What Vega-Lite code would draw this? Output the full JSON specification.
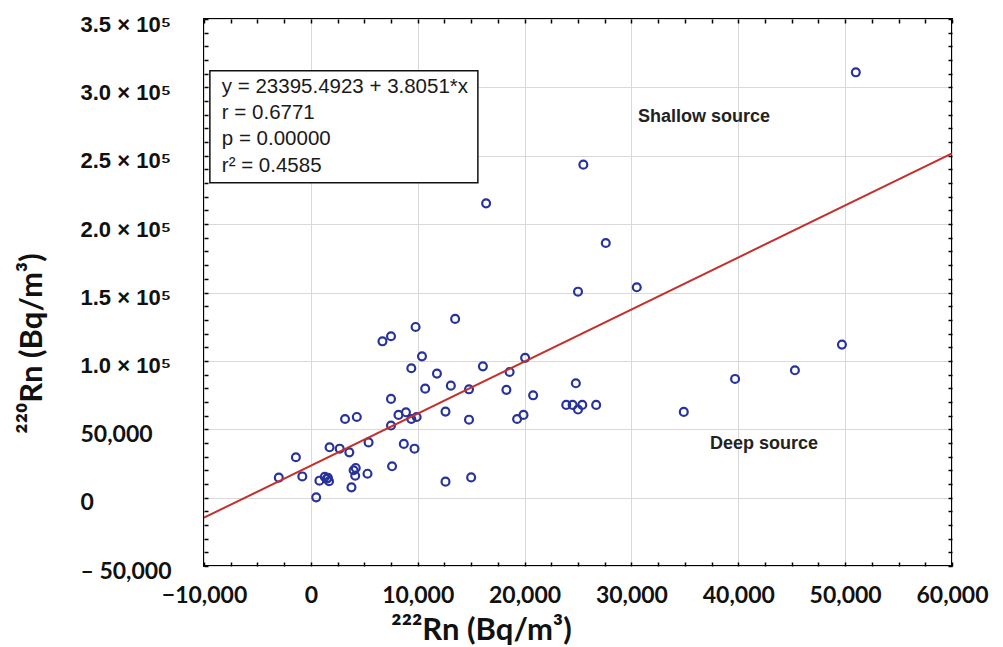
{
  "$schema": "https://vega.github.io/schema/vega-lite/v6.json",
  "width": 748,
  "height": 547,
  "autosize": "none",
  "padding": {"left": 204, "top": 19, "right": 51, "bottom": 81},
  "background": "white",
  "config": {
    "view": {"stroke": "#000000", "strokeWidth": 2},
    "axis": {"domain": false, "tickColor": "#000000", "tickWidth": 1.5, "gridColor": "#d9d9d9", "gridWidth": 1}
  },
  "datasets": {
    "points": [
      {"rn222": 51000, "rn220": 311000},
      {"rn222": 25500, "rn220": 243500},
      {"rn222": 16400, "rn220": 215200},
      {"rn222": 27600, "rn220": 186200},
      {"rn222": 30500, "rn220": 153800},
      {"rn222": 25000, "rn220": 150600},
      {"rn222": 13500, "rn220": 130700},
      {"rn222": 9800, "rn220": 124800},
      {"rn222": 7500, "rn220": 118000},
      {"rn222": 6700, "rn220": 114300},
      {"rn222": 10400, "rn220": 103300},
      {"rn222": 20050, "rn220": 102200},
      {"rn222": 49700, "rn220": 111900},
      {"rn222": 11800, "rn220": 90700},
      {"rn222": 9400, "rn220": 94600},
      {"rn222": 16100, "rn220": 96000},
      {"rn222": 18600, "rn220": 91900},
      {"rn222": 13100, "rn220": 81900},
      {"rn222": 10700, "rn220": 79700},
      {"rn222": 14800, "rn220": 79200},
      {"rn222": 18300, "rn220": 78800},
      {"rn222": 20800, "rn220": 74800},
      {"rn222": 7500, "rn220": 72200},
      {"rn222": 24800, "rn220": 83600},
      {"rn222": 23900, "rn220": 67800},
      {"rn222": 24500, "rn220": 67800},
      {"rn222": 25000, "rn220": 64400},
      {"rn222": 25400, "rn220": 67800},
      {"rn222": 26700, "rn220": 67800},
      {"rn222": 39700, "rn220": 86800},
      {"rn222": 45300, "rn220": 93100},
      {"rn222": 34900, "rn220": 62700},
      {"rn222": 4300, "rn220": 59000},
      {"rn222": 3200, "rn220": 57500},
      {"rn222": 8900, "rn220": 62400},
      {"rn222": 8200, "rn220": 60500},
      {"rn222": 9400, "rn220": 57500},
      {"rn222": 9900, "rn220": 59000},
      {"rn222": 12600, "rn220": 62900},
      {"rn222": 14800, "rn220": 57000},
      {"rn222": 19300, "rn220": 57500},
      {"rn222": 19900, "rn220": 60500},
      {"rn222": 7500, "rn220": 52700},
      {"rn222": 1750, "rn220": 36800},
      {"rn222": 2700, "rn220": 35800},
      {"rn222": 3600, "rn220": 33100},
      {"rn222": 5400, "rn220": 40400},
      {"rn222": 8700, "rn220": 39300},
      {"rn222": 9700, "rn220": 35800},
      {"rn222": -1400, "rn220": 29500},
      {"rn222": 7600, "rn220": 22900},
      {"rn222": 4200, "rn220": 21700},
      {"rn222": 4000, "rn220": 20000},
      {"rn222": 4150, "rn220": 16000},
      {"rn222": 5300, "rn220": 17500},
      {"rn222": -800, "rn220": 15500},
      {"rn222": -3000, "rn220": 14600},
      {"rn222": 800, "rn220": 12400},
      {"rn222": 1300, "rn220": 15200},
      {"rn222": 1500, "rn220": 13800},
      {"rn222": 1700, "rn220": 12000},
      {"rn222": 1600, "rn220": 14500},
      {"rn222": 3800, "rn220": 7500},
      {"rn222": 12600, "rn220": 11700},
      {"rn222": 15000, "rn220": 14800},
      {"rn222": 500, "rn220": 200}
    ],
    "fit": [
      {"rn222": -10000, "rn220": -14656},
      {"rn222": 60000, "rn220": 251702}
    ],
    "box": [
      {"x1": -9450, "x2": 15630, "y1": 230300, "y2": 312200}
    ],
    "stats": [
      {"x": -8330, "y": 300200, "label": "y = 23395.4923 + 3.8051*x"},
      {"x": -8330, "y": 281300, "label": "r = 0.6771"},
      {"x": -8330, "y": 262500, "label": "p = 0.00000"},
      {"x": -8330, "y": 242800, "label": "r² = 0.4585"}
    ],
    "notes": [
      {"x": 36800, "y": 278600, "label": "Shallow source"},
      {"x": 42400, "y": 39500, "label": "Deep source"}
    ]
  },
  "resolve": {"axis": {"x": "independent", "y": "independent"}},
  "layer": [
    {
      "data": {"name": "points"},
      "mark": {"type": "point", "shape": "circle", "filled": false, "size": 62, "strokeWidth": 2.2, "color": "#27339a", "opacity": 1, "clip": true},
      "encoding": {
        "x": {
          "field": "rn222", "type": "quantitative",
          "scale": {"domain": [-10000, 60000], "nice": false, "zero": false},
          "axis": {
            "orient": "bottom",
            "values": [-10000, -7500, -5000, -2500, 0, 2500, 5000, 7500, 10000, 12500, 15000, 17500, 20000, 22500, 25000, 27500, 30000, 32500, 35000, 37500, 40000, 42500, 45000, 47500, 50000, 52500, 55000, 57500, 60000],
            "labelExpr": "datum.value % 10000 !== 0 ? '' : (datum.value < 0 ? '−' + format(-datum.value, ',') : format(datum.value, ','))",
            "labelOverlap": false, "labelBound": false, "labelFlush": false,
            "labelFont": "Lato", "labelFontWeight": "bold", "labelFontSize": 23, "labelColor": "#111111",
            "labelPadding": 22,
            "tickSize": -4,
            "gridOpacity": {"condition": {"test": "datum.value % 10000 === 0", "value": 1}, "value": 0},
            "title": "²²²Rn (Bq/m³)",
            "titleFont": "Lato", "titleFontWeight": "bold", "titleFontSize": 31, "titleColor": "#111111",
            "titleAnchor": null, "titleAlign": "center", "titleBaseline": "alphabetic",
            "titleX": 277, "titleY": 73
          }
        },
        "y": {
          "field": "rn220", "type": "quantitative",
          "scale": {"domain": [-50000, 350000], "nice": false, "zero": false},
          "axis": {
            "orient": "left",
            "values": [-50000, -40000, -30000, -20000, -10000, 0, 10000, 20000, 30000, 40000, 50000, 60000, 70000, 80000, 90000, 100000, 110000, 120000, 130000, 140000, 150000, 160000, 170000, 180000, 190000, 200000, 210000, 220000, 230000, 240000, 250000, 260000, 270000, 280000, 290000, 300000, 310000, 320000, 330000, 340000, 350000],
            "labelExpr": "datum.value % 50000 !== 0 ? '' : (datum.value >= 100000 ? format(datum.value / 100000, '.1f') + ' × 10⁵' : (datum.value < 0 ? '– ' + format(-datum.value, ',') : format(datum.value, ',')))",
            "labelOverlap": false, "labelBound": false, "labelFlush": false,
            "labelAlign": "left", "labelBaseline": "middle",
            "labelFont": {"condition": {"test": "datum.value >= 100000", "value": "Liberation Sans"}, "value": "Lato"},
            "labelFontSize": {"condition": {"test": "datum.value >= 100000", "value": 22}, "value": 23},
            "labelFontWeight": "bold", "labelColor": "#111111",
            "labelPadding": 128,
            "labelOffset": 5,
            "tickSize": -4,
            "gridOpacity": {"condition": {"test": "datum.value % 50000 === 0", "value": 1}, "value": 0},
            "title": "²²⁰Rn (Bq/m³)",
            "titleFont": "Lato", "titleFontWeight": "bold", "titleFontSize": 31, "titleColor": "#111111",
            "titleAnchor": null, "titleAngle": -90, "titleAlign": "center", "titleBaseline": "middle",
            "titleX": -172, "titleY": 324
          }
        }
      }
    },
    {
      "data": {"name": "fit"},
      "mark": {"type": "line", "color": "#c4302b", "strokeWidth": 2, "clip": true},
      "encoding": {
        "x": {
          "field": "rn222", "type": "quantitative",
          "axis": {
            "orient": "top",
            "values": [-10000, -7500, -5000, -2500, 0, 2500, 5000, 7500, 10000, 12500, 15000, 17500, 20000, 22500, 25000, 27500, 30000, 32500, 35000, 37500, 40000, 42500, 45000, 47500, 50000, 52500, 55000, 57500, 60000],
            "labels": false, "grid": false, "tickSize": -4, "title": null
          }
        },
        "y": {
          "field": "rn220", "type": "quantitative",
          "axis": {
            "orient": "right",
            "values": [-50000, -40000, -30000, -20000, -10000, 0, 10000, 20000, 30000, 40000, 50000, 60000, 70000, 80000, 90000, 100000, 110000, 120000, 130000, 140000, 150000, 160000, 170000, 180000, 190000, 200000, 210000, 220000, 230000, 240000, 250000, 260000, 270000, 280000, 290000, 300000, 310000, 320000, 330000, 340000, 350000],
            "labels": false, "grid": false, "tickSize": -4, "title": null
          }
        }
      }
    },
    {
      "data": {"name": "box"},
      "mark": {"type": "rect", "fill": "#ffffff", "stroke": "#111111", "strokeWidth": 1.5},
      "encoding": {
        "x": {"field": "x1", "type": "quantitative", "axis": null},
        "x2": {"field": "x2"},
        "y": {"field": "y1", "type": "quantitative", "axis": null},
        "y2": {"field": "y2"}
      }
    },
    {
      "data": {"name": "stats"},
      "mark": {"type": "text", "align": "left", "baseline": "middle", "font": "Liberation Sans", "fontSize": 20.5, "color": "#1a1a1a"},
      "encoding": {
        "x": {"field": "x", "type": "quantitative", "axis": null},
        "y": {"field": "y", "type": "quantitative", "axis": null},
        "text": {"field": "label"}
      }
    },
    {
      "data": {"name": "notes"},
      "mark": {"type": "text", "align": "center", "baseline": "middle", "font": "Liberation Sans", "fontWeight": "bold", "fontSize": 18, "color": "#222222"},
      "encoding": {
        "x": {"field": "x", "type": "quantitative", "axis": null},
        "y": {"field": "y", "type": "quantitative", "axis": null},
        "text": {"field": "label"}
      }
    }
  ]
}
